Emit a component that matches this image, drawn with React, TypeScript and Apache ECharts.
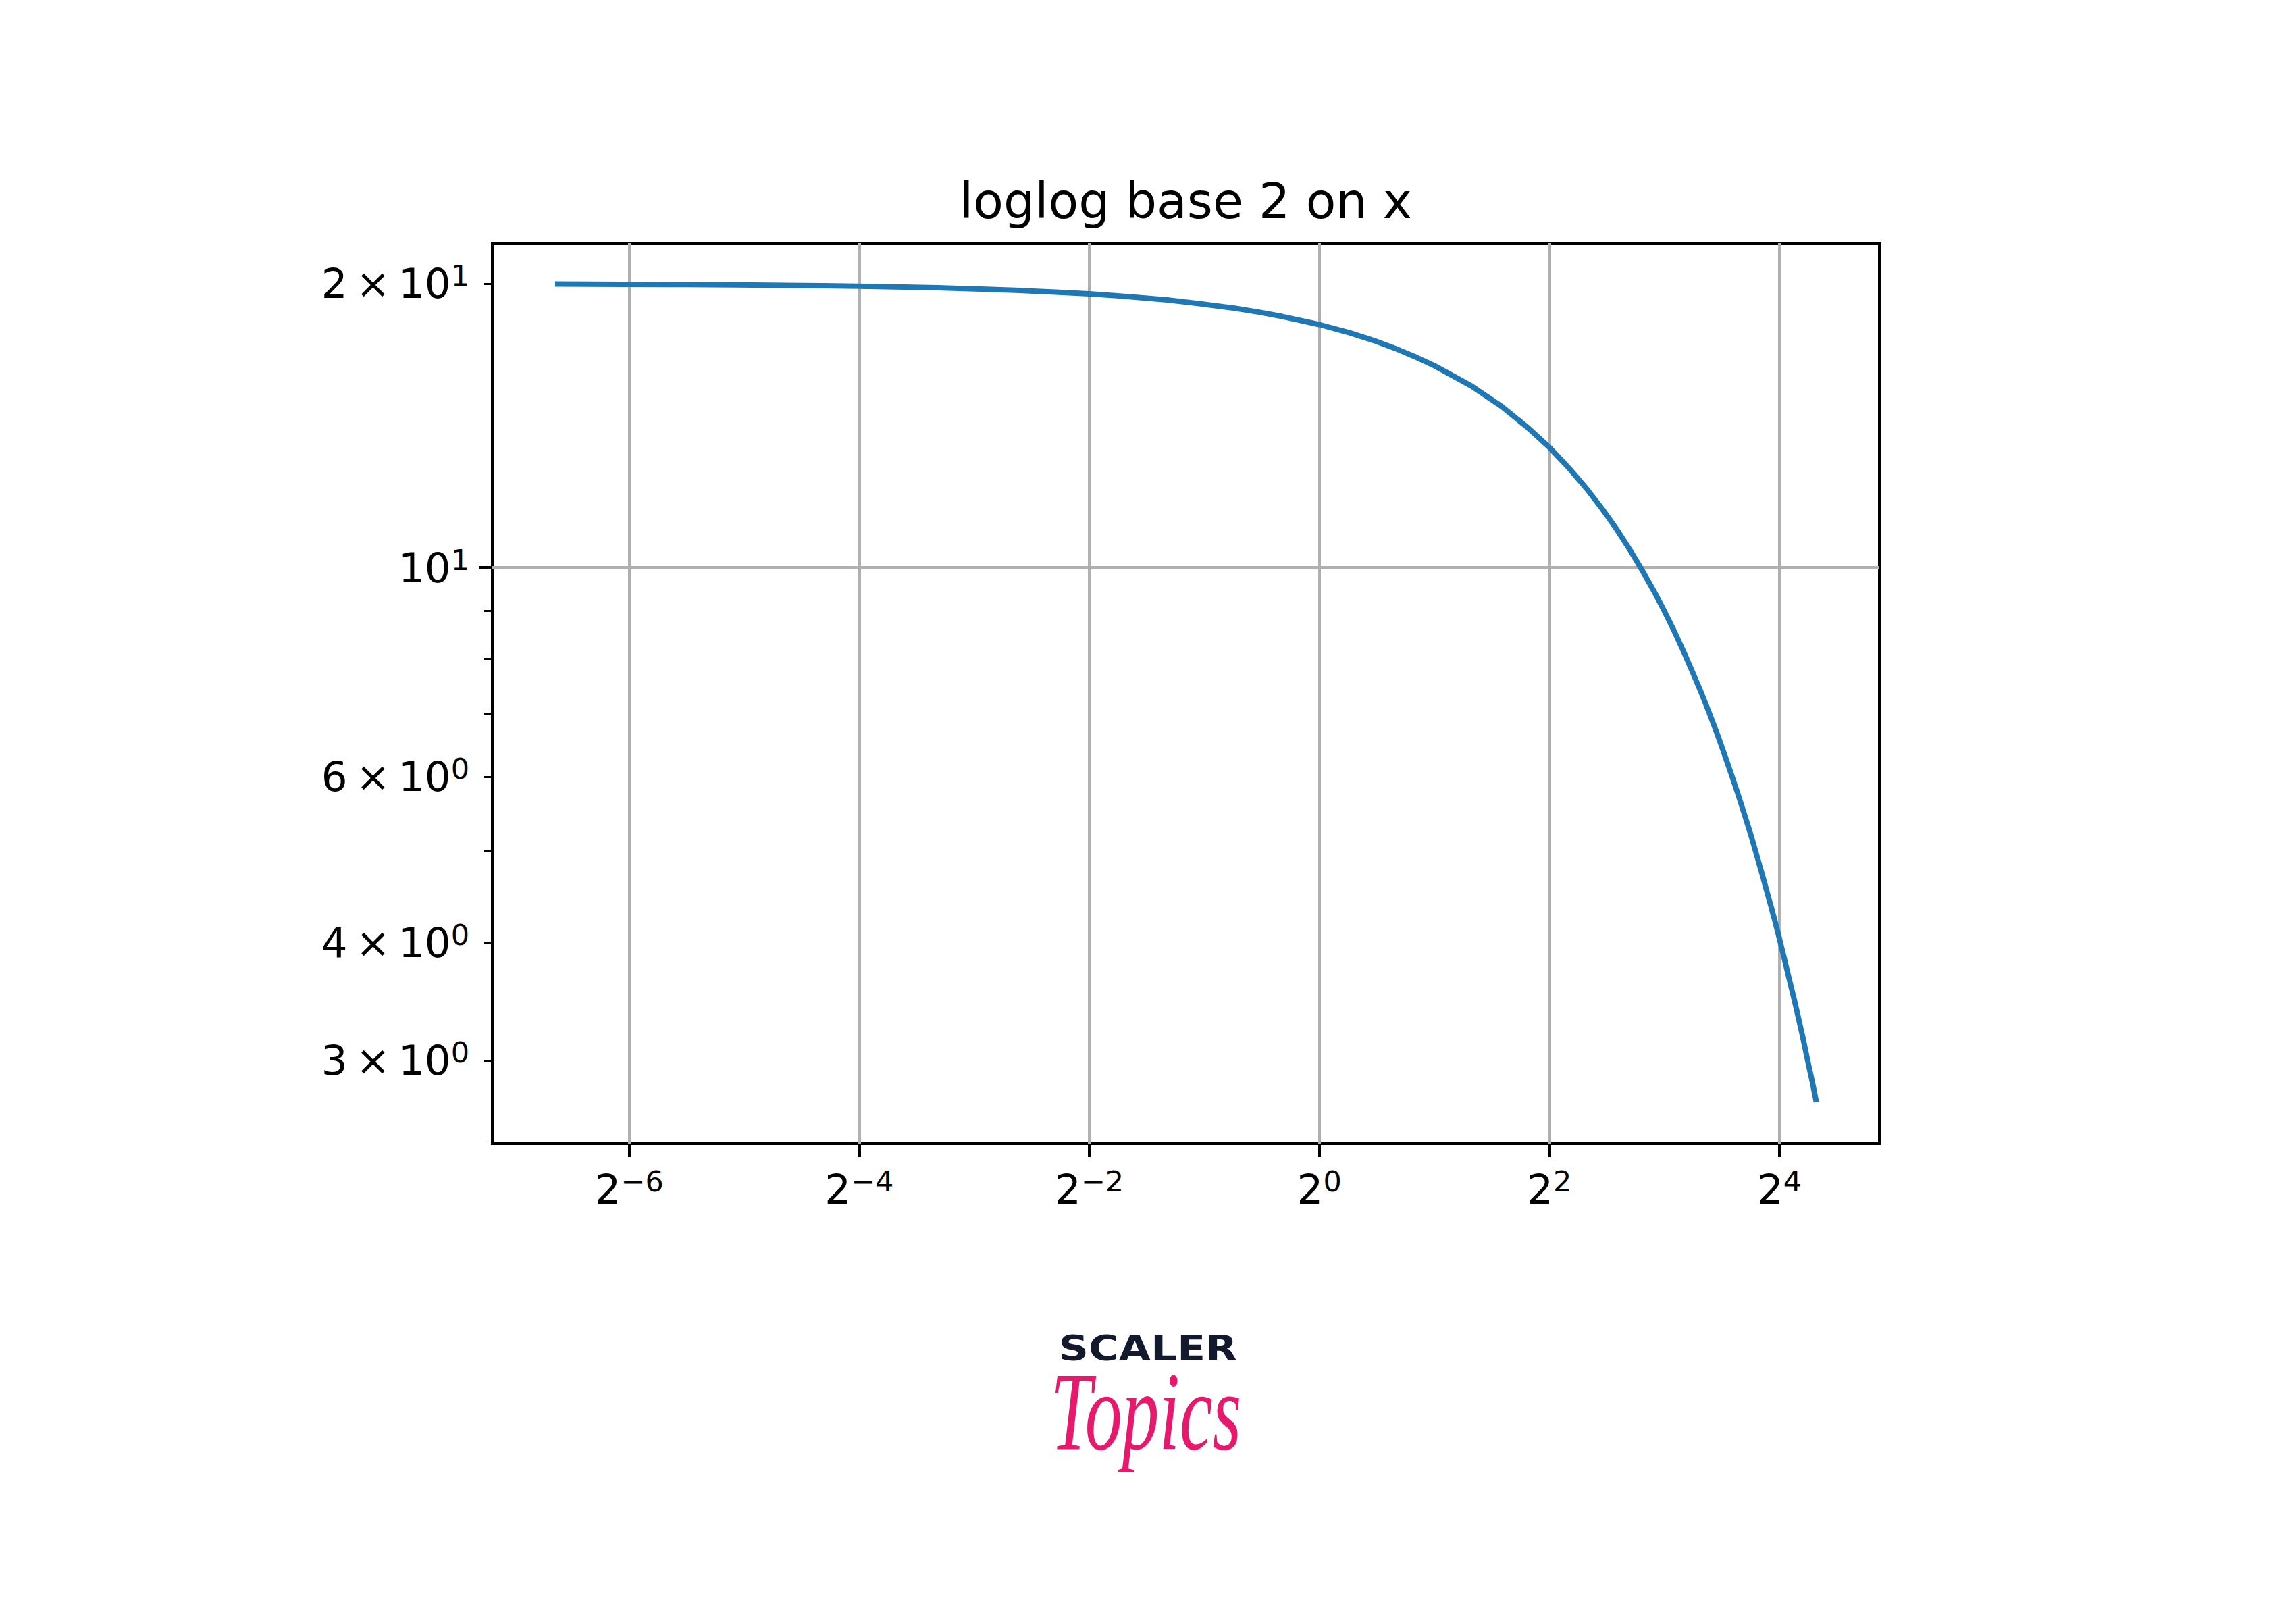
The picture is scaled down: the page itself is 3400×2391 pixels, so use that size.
import React, { useEffect, useRef } from "react";
import * as echarts from "echarts";

// ---- data ----
const titleText = "loglog base 2 on x";

const curveX = [
  0.01, 0.015, 0.02, 0.03, 0.04, 0.05, 0.07, 0.1, 0.13, 0.16, 0.2, 0.25, 0.3,
  0.35, 0.4, 0.5, 0.6, 0.7, 0.8, 1, 1.2, 1.4, 1.6, 1.8, 2, 2.5, 3, 3.5, 4, 4.5,
  5, 5.5, 6, 6.5, 7, 7.5, 8, 8.5, 9, 9.5, 10, 10.5, 11, 11.5, 12, 12.5, 13,
  13.5, 14, 14.5, 15, 15.5, 16, 16.5, 17, 17.5, 18, 18.5, 19, 19.5, 19.99,
];
const curveY = [
  19.98, 19.97, 19.96, 19.94, 19.92, 19.9, 19.86, 19.8, 19.74, 19.68, 19.6,
  19.51, 19.41, 19.31, 19.22, 19.02, 18.84, 18.65, 18.46, 18.1, 17.74, 17.39,
  17.04, 16.7, 16.37, 15.58, 14.82, 14.09, 13.41, 12.75, 12.13, 11.54, 10.98,
  10.44, 9.93, 9.45, 8.99, 8.55, 8.13, 7.73, 7.36, 7.0, 6.66, 6.33, 6.02, 5.73,
  5.45, 5.19, 4.93, 4.69, 4.46, 4.25, 4.04, 3.84, 3.65, 3.48, 3.31, 3.15, 2.99,
  2.85, 2.71,
];

const xRange = [0.00685, 29.22];
const yRange = [2.449, 22.08];

const xTickValues = [0.015625, 0.0625, 0.25, 1, 4, 16];
const xTickBase = ["2", "2", "2", "2", "2", "2"];
const xTickExponents = ["\u22126", "\u22124", "\u22122", "0", "2", "4"];

const yMajorTickValues = [10];
const yMajorLabelBase = ["10"];
const yMajorLabelExp = ["1"];

const yMinorTickValues = [3, 4, 5, 6, 7, 8, 9, 20];
const yMinorLabelValues = [3, 4, 6, 20];
const yMinorLabelBase = [
  "3\u2009\u00d7\u200910",
  "4\u2009\u00d7\u200910",
  "6\u2009\u00d7\u200910",
  "2\u2009\u00d7\u200910",
];
const yMinorLabelExp = ["0", "0", "0", "1"];

// ---- styles ----
const FONT = "DejaVu Sans";
const TICK_FS = 61;
const SUP_FS = 43;

function nearestIndex(values: number[], v: number) {
  let best = 0;
  for (let i = 1; i < values.length; i++) {
    if (Math.abs(Math.log(values[i] / v)) < Math.abs(Math.log(values[best] / v))) best = i;
  }
  return best;
}

const rich = {
  b: {
    fontFamily: FONT,
    fontSize: TICK_FS,
    lineHeight: 66,
    color: "#000",
    verticalAlign: "middle",
  },
  s: {
    fontFamily: FONT,
    fontSize: SUP_FS,
    lineHeight: 34,
    color: "#000",
    verticalAlign: "top",
  },
};

export default function App() {
  const ref = useRef<HTMLDivElement>(null);

  useEffect(() => {
    if (!ref.current) return;
    const chart = echarts.init(ref.current, undefined, { renderer: "svg" });

    const data = curveX.map((x, i) => [x, curveY[i]]);

    const option: any = {
      animation: false,
      backgroundColor: "#ffffff",
      grid: {
        left: 729,
        top: 360,
        right: 3400 - 2783,
        bottom: 2391 - 1693,
        show: true,
        borderColor: "#000",
        borderWidth: 4,
        backgroundColor: "transparent",
        containLabel: false,
      },
      xAxis: {
        type: "log",
        logBase: 2,
        min: xRange[0],
        max: xRange[1],
        position: "bottom",
        axisLine: { show: false },
        axisTick: {
          show: true,
          length: 20,
          lineStyle: { color: "#000", width: 4 },
          customValues: xTickValues,
        },
        axisLabel: {
          show: true,
          customValues: xTickValues,
          margin: 34,
          hideOverlap: false,
          formatter: (v: number) => {
            const i = nearestIndex(xTickValues, v);
            return `{b|${xTickBase[i]}}{s|${xTickExponents[i]}}`;
          },
          rich,
        },
        splitLine: { show: true, lineStyle: { color: "#b0b0b0", width: 4 } },
        minorTick: { show: false },
        minorSplitLine: { show: false },
      },
      yAxis: [
        {
          type: "log",
          logBase: 10,
          min: yRange[0],
          max: yRange[1],
          position: "left",
          axisLine: { show: false },
          axisTick: {
            show: true,
            length: 20,
            lineStyle: { color: "#000", width: 4 },
            customValues: yMajorTickValues,
          },
          axisLabel: {
            show: true,
            customValues: yMajorTickValues,
            margin: 34,
            hideOverlap: false,
            formatter: (v: number) => {
              const i = nearestIndex(yMajorTickValues, v);
              return `{b|${yMajorLabelBase[i]}}{s|${yMajorLabelExp[i]}}`;
            },
            rich,
          },
          splitLine: { show: true, lineStyle: { color: "#b0b0b0", width: 4 } },
          minorTick: { show: false },
          minorSplitLine: { show: false },
        },
        {
          type: "log",
          logBase: 10,
          min: yRange[0],
          max: yRange[1],
          position: "left",
          offset: 0,
          axisLine: { show: false },
          axisTick: {
            show: true,
            length: 12,
            lineStyle: { color: "#000", width: 3 },
            customValues: yMinorTickValues,
          },
          axisLabel: {
            show: true,
            customValues: yMinorLabelValues,
            margin: 34,
            hideOverlap: false,
            formatter: (v: number) => {
              const i = nearestIndex(yMinorLabelValues, v);
              return `{b|${yMinorLabelBase[i]}}{s|${yMinorLabelExp[i]}}`;
            },
            rich,
          },
          splitLine: { show: false },
          minorTick: { show: false },
          minorSplitLine: { show: false },
        },
      ],
      series: [
        {
          type: "line",
          xAxisIndex: 0,
          yAxisIndex: 0,
          data,
          showSymbol: false,
          symbol: "none",
          smooth: false,
          lineStyle: { color: "#1f77b4", width: 8 },
          z: 5,
        },
      ],
      graphic: [
        {
          type: "text",
          x: 1756,
          y: 297,
          style: {
            text: titleText,
            fontFamily: FONT,
            fontSize: 73,
            fill: "#000",
            textAlign: "center",
            textVerticalAlign: "middle",
          },
        },
        {
          type: "text",
          x: 1700,
          y: 1996,
          scaleX: 1.2,
          style: {
            text: "SCALER",
            fontFamily: FONT,
            fontWeight: "bold",
            fontSize: 51,
            fill: "#141a2e",
            textAlign: "center",
            textVerticalAlign: "middle",
          },
        },
        {
          type: "text",
          x: 1697,
          y: 2089,
          scaleX: 0.665,
          style: {
            text: "Topics",
            fontFamily: "Liberation Serif",
            fontStyle: "italic",
            fontSize: 165,
            fill: "#e6196d",
            textAlign: "center",
            textVerticalAlign: "middle",
          },
        },
      ],
    };

    chart.setOption(option);
    return () => chart.dispose();
  }, []);

  return (
    <div
      ref={ref}
      style={{ position: "fixed", left: 0, top: 0, width: 3400, height: 2391, background: "#fff" }}
    />
  );
}
